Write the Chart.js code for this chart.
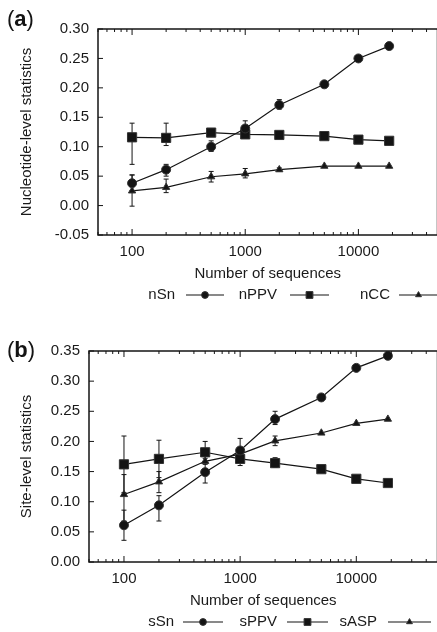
<!DOCTYPE html>
<html>
<head>
<meta charset="utf-8">
<script src="https://cdn.jsdelivr.net/npm/chart.js@4.4.1/dist/chart.umd.min.js"></script>
<style>
  html, body { margin: 0; padding: 0; background: #fff; overflow: hidden; }
  #wrap { position: relative; width: 437px; height: 632px; overflow: hidden; }
  .panel { position: absolute; left: 0; }
  #panelA { top: 0; }
  #panelB { top: 320px; }
</style>
</head>
<body>
<div id="wrap">
  <div class="panel" id="panelA"><canvas id="chartA" width="445" height="305"></canvas></div>
  <div class="panel" id="panelB"><canvas id="chartB" width="445" height="312"></canvas></div>
</div>
<script>
// number of sequences (x)
const sizes = [100, 200, 500, 1000, 2000, 5000, 10000, 18700];
const xTickValues = [100, 1000, 10000];
const yTicksA = [-0.05, 0, 0.05, 0.1, 0.15, 0.2, 0.25, 0.3];
const yTicksB = [0, 0.05, 0.1, 0.15, 0.2, 0.25, 0.3, 0.35];

// (a) nucleotide level
const nSn = [0.038, 0.061, 0.100, 0.131, 0.171, 0.206, 0.250, 0.271];
const nSnLo = [0.025, 0.050, 0.092, 0.118, 0.164, null, null, null];
const nSnHi = [0.052, 0.070, 0.110, 0.144, 0.180, null, null, null];
const nPPV = [0.116, 0.115, 0.124, 0.121, 0.120, 0.118, 0.112, 0.110];
const nPPVLo = [0.070, 0.102, 0.120, 0.116, null, null, null, null];
const nPPVHi = [0.140, 0.140, 0.128, 0.126, null, null, null, null];
const nCC = [0.025, 0.031, 0.049, 0.054, 0.061, 0.067, 0.067, 0.067];
const nCCLo = [-0.001, 0.022, 0.040, 0.047, 0.058, null, null, null];
const nCCHi = [0.052, 0.045, 0.058, 0.063, 0.064, null, null, null];

// (b) site level
const sSn = [0.061, 0.094, 0.149, 0.185, 0.237, 0.273, 0.322, 0.342];
const sSnLo = [0.036, 0.068, 0.131, 0.170, 0.228, null, null, null];
const sSnHi = [0.086, 0.110, 0.165, 0.205, 0.250, null, null, null];
const sPPV = [0.162, 0.171, 0.182, 0.171, 0.164, 0.154, 0.138, 0.131];
const sPPVLo = [0.115, 0.140, 0.165, 0.160, 0.157, null, null, null];
const sPPVHi = [0.209, 0.202, 0.200, 0.178, 0.173, null, null, null];
const sASP = [0.112, 0.133, 0.167, 0.179, 0.201, 0.214, 0.230, 0.237];
const sASPLo = [0.068, 0.115, 0.162, 0.172, 0.193, null, null, null];
const sASPHi = [0.145, 0.150, 0.172, 0.186, 0.209, null, null, null];

const INK = "#141414";
Chart.defaults.font.family = '"Liberation Sans", Arial, sans-serif';
Chart.defaults.font.size = 15;
Chart.defaults.color = "#1a1a1a";

// minor log ticks between 50 and 50000
const xMinor = [];
[10, 100, 1000, 10000].forEach((d) => {
  for (let k = 2; k <= 9; k++) {
    const v = k * d;
    if (v >= 50 && v <= 50000 && !xTickValues.includes(v)) xMinor.push(v);
  }
});

function serie(label, values, lo, hi, style, radius) {
  return {
    label,
    data: values.map((v, i) => ({ x: sizes[i], y: v })),
    errLo: lo,
    errHi: hi,
    borderColor: INK,
    backgroundColor: INK,
    borderWidth: 1.2,
    pointStyle: style,
    pointRadius: radius,
    pointBorderWidth: 1,
    pointBorderColor: "#333",
    pointBackgroundColor: INK,
    tension: 0,
  };
}

const errorBars = {
  id: "errorBars",
  beforeDatasetsDraw(chart) {
    const ctx = chart.ctx;
    const x = chart.scales.x;
    const y = chart.scales.y;
    ctx.save();
    ctx.strokeStyle = INK;
    ctx.lineWidth = 1;
    chart.data.datasets.forEach((ds) => {
      ds.data.forEach((p, i) => {
        const lo = ds.errLo[i];
        const hi = ds.errHi[i];
        if (lo == null || hi == null) return;
        const px = x.getPixelForValue(p.x);
        const y1 = y.getPixelForValue(lo);
        const y2 = y.getPixelForValue(hi);
        ctx.beginPath();
        ctx.moveTo(px, y1);
        ctx.lineTo(px, y2);
        ctx.moveTo(px - 2.5, y1);
        ctx.lineTo(px + 2.5, y1);
        ctx.moveTo(px - 2.5, y2);
        ctx.lineTo(px + 2.5, y2);
        ctx.stroke();
      });
    });
    ctx.restore();
  },
};

const frame = {
  id: "frame",
  afterDraw(chart, args, opts) {
    const { ctx, chartArea: a } = chart;
    const x = chart.scales.x;
    const y = chart.scales.y;
    ctx.save();
    ctx.strokeStyle = INK;
    ctx.lineWidth = 1.5;
    ctx.strokeRect(a.left, a.top, a.right - a.left, a.bottom - a.top);

    ctx.lineWidth = 1;
    ctx.beginPath();
    xTickValues.forEach((v) => {
      const px = x.getPixelForValue(v);
      ctx.moveTo(px, a.bottom);
      ctx.lineTo(px, a.bottom - 6);
      ctx.moveTo(px, a.top);
      ctx.lineTo(px, a.top + 6);
    });
    xMinor.forEach((v) => {
      const px = x.getPixelForValue(v);
      ctx.moveTo(px, a.bottom);
      ctx.lineTo(px, a.bottom - 3);
      ctx.moveTo(px, a.top);
      ctx.lineTo(px, a.top + 3);
    });
    opts.yTicks.forEach((v) => {
      const py = y.getPixelForValue(v);
      ctx.moveTo(a.left, py);
      ctx.lineTo(a.left + 5, py);
    });
    ctx.stroke();

    // panel letter: "(" normal, letter bold, ")" normal
    ctx.fillStyle = INK;
    ctx.textBaseline = "middle";
    ctx.textAlign = "left";
    let lx = 7;
    const ly = opts.letterY;
    ctx.font = '22px "Liberation Sans", Arial, sans-serif';
    ctx.fillText("(", lx, ly);
    lx += ctx.measureText("(").width;
    ctx.font = 'bold 22px "Liberation Sans", Arial, sans-serif';
    ctx.fillText(opts.letter, lx, ly);
    lx += ctx.measureText(opts.letter).width;
    ctx.font = '22px "Liberation Sans", Arial, sans-serif';
    ctx.fillText(")", lx, ly);

    // legend: text then sample line with marker
    const legY = a.bottom + 60;
    ctx.font = '15px "Liberation Sans", Arial, sans-serif';
    ctx.textAlign = "right";
    opts.legend.forEach((item, i) => {
      const ds = chart.data.datasets[i];
      ctx.fillStyle = "#1a1a1a";
      ctx.fillText(ds.label, item.textRight, legY);
      ctx.strokeStyle = INK;
      ctx.lineWidth = 1.2;
      ctx.beginPath();
      ctx.moveTo(item.from, legY);
      ctx.lineTo(item.to, legY);
      ctx.stroke();
      ctx.fillStyle = INK;
      ctx.strokeStyle = "#333";
      ctx.lineWidth = 1;
      Chart.helpers.drawPoint(
        ctx,
        { pointStyle: ds.pointStyle, radius: item.r, rotation: 0, borderWidth: 1 },
        (item.from + item.to) / 2,
        legY,
      );
    });
    ctx.restore();
  },
};

function makeChart(id, datasets, yMin, yMax, yTicks, yTitle, yWidth, topPad, letter, letterY, legend) {
  const ctx = document.getElementById(id).getContext("2d");
  return new Chart(ctx, {
    type: "line",
    data: { datasets },
    plugins: [errorBars, frame],
    options: {
      responsive: false,
      animation: false,
      layout: { padding: { top: topPad, right: 4, left: 0, bottom: 0 } },
      plugins: {
        legend: { display: false },
        tooltip: { enabled: false },
        frame: { yTicks, letter, letterY, legend },
      },
      scales: {
        x: {
          type: "logarithmic",
          min: 50,
          max: 50000,
          grid: { display: false, drawTicks: false },
          border: { display: false },
          afterBuildTicks: (s) => {
            s.ticks = xTickValues.map((v) => ({ value: v }));
          },
          afterFit: (s) => {
            s.height = 70;
          },
          ticks: {
            autoSkip: false,
            maxRotation: 0,
            padding: 8,
            callback: (v) => String(v),
          },
          title: {
            display: true,
            text: "Number of sequences",
            padding: { top: 0, bottom: 22 },
          },
        },
        y: {
          min: yMin,
          max: yMax,
          grid: { display: false, drawTicks: false },
          border: { display: false },
          afterBuildTicks: (s) => {
            s.ticks = yTicks.map((v) => ({ value: v }));
          },
          afterFit: (s) => {
            s.width = yWidth;
          },
          ticks: {
            padding: 9,
            callback: (v) => Number(v).toFixed(2),
          },
          title: {
            display: true,
            text: yTitle,
            padding: { top: 18, bottom: 0 },
          },
        },
      },
    },
  });
}

makeChart(
  "chartA",
  [
    serie("nSn", nSn, nSnLo, nSnHi, "circle", 4.5),
    serie("nPPV", nPPV, nPPVLo, nPPVHi, "rect", 6.5),
    serie("nCC", nCC, nCCLo, nCCHi, "triangle", 4.2),
  ],
  -0.05, 0.3, yTicksA, "Nucleotide-level statistics", 98, 29, "a", 20,
  [
    { textRight: 175, from: 186, to: 224, r: 3.4 },
    { textRight: 277, from: 290, to: 329, r: 4.8 },
    { textRight: 390, from: 399, to: 438, r: 3.4 },
  ],
);

makeChart(
  "chartB",
  [
    serie("sSn", sSn, sSnLo, sSnHi, "circle", 4.5),
    serie("sPPV", sPPV, sPPVLo, sPPVHi, "rect", 6.5),
    serie("sASP", sASP, sASPLo, sASPHi, "triangle", 4.2),
  ],
  0, 0.35, yTicksB, "Site-level statistics", 89, 31, "b", 31,
  [
    { textRight: 174, from: 183, to: 223, r: 3.4 },
    { textRight: 277, from: 287, to: 328, r: 4.8 },
    { textRight: 377, from: 388, to: 431, r: 3.4 },
  ],
);
</script>
</body>
</html>
